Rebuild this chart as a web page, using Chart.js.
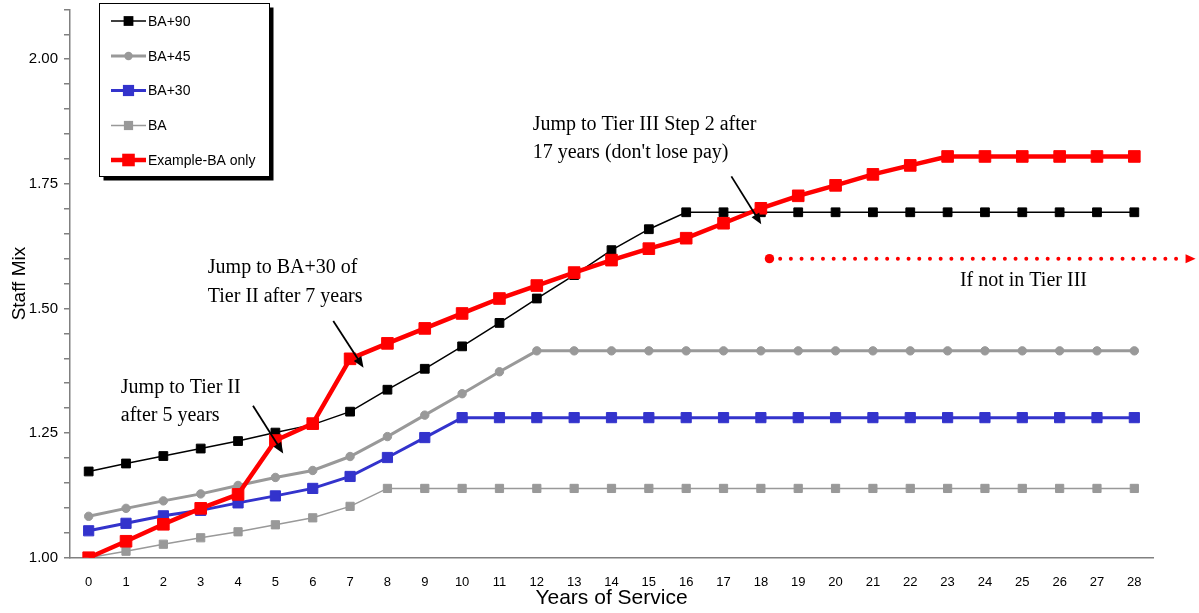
<!DOCTYPE html>
<html>
<head>
<meta charset="utf-8">
<title>Staff Mix by Years of Service</title>
<script src="https://cdn.jsdelivr.net/npm/chart.js@4.4.1/dist/chart.umd.min.js"></script>
<style>
  html, body { margin: 0; padding: 0; background: #ffffff; }
  canvas { display: block; }
</style>
</head>
<body>
<canvas id="chart" width="1199" height="613"></canvas>
<script>
// Years of service (category positions)
const years = [0,1,2,3,4,5,6,7,8,9,10,11,12,13,14,15,16,17,18,19,20,21,22,23,24,25,26,27,28];

// Staff mix factor per lane
const ba90 = [1.173,1.189,1.204,1.219,1.234,1.251,1.267,1.293,1.337,1.379,1.424,1.471,1.520,1.567,1.617,1.659,1.693,
              1.693,1.693,1.693,1.693,1.693,1.693,1.693,1.693,1.693,1.693,1.693,1.693];
const ba45 = [1.083,1.099,1.114,1.128,1.145,1.161,1.175,1.203,1.243,1.286,1.329,1.373,1.415,
              1.415,1.415,1.415,1.415,1.415,1.415,1.415,1.415,1.415,1.415,1.415,1.415,1.415,1.415,1.415,1.415];
const ba30 = [1.054,1.069,1.084,1.095,1.110,1.124,1.139,1.163,1.201,1.241,1.281,
              1.281,1.281,1.281,1.281,1.281,1.281,1.281,1.281,1.281,1.281,1.281,1.281,1.281,1.281,1.281,1.281,1.281,1.281];
const ba   = [1.000,1.013,1.027,1.040,1.052,1.066,1.080,1.103,1.139,
              1.139,1.139,1.139,1.139,1.139,1.139,1.139,1.139,1.139,1.139,1.139,1.139,1.139,1.139,1.139,1.139,1.139,1.139,1.139,1.139];
const exampleBA = [1.000,1.033,1.067,1.099,1.127,1.235,1.269,1.399,1.430,1.460,1.490,1.520,1.546,1.572,1.597,1.620,1.641,
                   1.671,1.701,1.726,1.747,1.769,1.787,1.805,1.805,1.805,1.805,1.805,1.805];

// Axis labels
const yTickLabels = [1.00, 1.25, 1.50, 1.75, 2.00];
const yMin = 1.0, yMax = 2.1, yMinorStep = 0.05;
const isLabelled = v => yTickLabels.some(t => Math.abs(t - v) < 1e-6);

// Callout texts (anchored at data coordinates: x = years, y = staff mix of first baseline)
const notes = [
  { lines: ['Jump to Tier II', 'after 5 years'], x: 0.86, y: 1.331 },
  { lines: ['Jump to BA+30 of', 'Tier II after 7 years'], x: 3.19, y: 1.571 },
  { lines: ['Jump to Tier III Step 2 after', "17 years (don't lose pay)"], x: 11.89, y: 1.859 },
  { lines: ['If not in Tier III'], x: 23.33, y: 1.545 }
];
// Callout arrows [fromX, fromY, toX, toY]
const arrows = [
  [4.40, 1.305, 5.21, 1.209],
  [6.55, 1.475, 7.36, 1.381],
  [17.21, 1.765, 18.01, 1.669]
];
// Dotted path for staying outside Tier III
const dottedPath = [18.23, 1.60, 29.64, 1.60];

const toPoints = arr => arr.map((v, i) => ({ x: years[i], y: v }));

const series = [
  { label: 'BA+90', data: ba90, color: '#000000', line: 1.5, style: 'rect', radius: 6.2, order: 1 },
  { label: 'BA+45', data: ba45, color: '#999999', line: 3, style: 'circle', radius: 4.2, order: 2 },
  { label: 'BA+30', data: ba30, color: '#3333CC', line: 3, style: 'rect', radius: 7.2, order: 3 },
  { label: 'BA', data: ba, color: '#999999', line: 1.5, style: 'rect', radius: 5.8, order: 4 },
  { label: 'Example-BA only', data: exampleBA, color: '#FF0000', line: 4.5, style: 'rect', radius: 8.2, order: 0 }
];

const datasets = series.map(s => ({
  label: s.label,
  data: toPoints(s.data),
  borderColor: s.color,
  backgroundColor: s.color,
  borderWidth: s.line,
  pointStyle: s.style,
  pointRadius: s.radius,
  pointBorderWidth: 1,
  pointBorderColor: s.color,
  pointBackgroundColor: s.color,
  tension: 0,
  order: s.order
}));

function drawArrowHead(ctx, x1, y1, x2, y2, len, halfW) {
  const a = Math.atan2(y2 - y1, x2 - x1);
  ctx.beginPath();
  ctx.moveTo(x2, y2);
  ctx.lineTo(x2 - len * Math.cos(a) + halfW * Math.sin(a), y2 - len * Math.sin(a) - halfW * Math.cos(a));
  ctx.lineTo(x2 - len * Math.cos(a) - halfW * Math.sin(a), y2 - len * Math.sin(a) + halfW * Math.cos(a));
  ctx.closePath();
  ctx.fill();
}

const calloutPlugin = {
  id: 'callouts',
  afterDatasetsDraw(chart) {
    const { ctx, scales: { x, y } } = chart;
    ctx.save();
    // text notes
    ctx.fillStyle = '#000000';
    ctx.font = '20px "Liberation Serif", "Times New Roman", serif';
    ctx.textAlign = 'left';
    ctx.textBaseline = 'alphabetic';
    notes.forEach(n => {
      const px = x.getPixelForValue(n.x);
      const py = y.getPixelForValue(n.y);
      n.lines.forEach((t, i) => ctx.fillText(t, px, py + i * 28.5));
    });
    // arrows
    ctx.strokeStyle = '#000000';
    ctx.lineWidth = 1.8;
    arrows.forEach(a => {
      const x1 = x.getPixelForValue(a[0]), y1 = y.getPixelForValue(a[1]);
      const x2 = x.getPixelForValue(a[2]), y2 = y.getPixelForValue(a[3]);
      const ang = Math.atan2(y2 - y1, x2 - x1);
      ctx.beginPath();
      ctx.moveTo(x1, y1);
      ctx.lineTo(x2 - 8 * Math.cos(ang), y2 - 8 * Math.sin(ang));
      ctx.stroke();
      drawArrowHead(ctx, x1, y1, x2, y2, 11, 4.5);
    });
    // dotted red path
    const dx1 = x.getPixelForValue(dottedPath[0]), dy1 = y.getPixelForValue(dottedPath[1]);
    const dx2 = x.getPixelForValue(dottedPath[2]), dy2 = y.getPixelForValue(dottedPath[3]);
    ctx.fillStyle = '#FF0000';
    ctx.strokeStyle = '#FF0000';
    ctx.beginPath();
    ctx.arc(dx1, dy1, 4.7, 0, Math.PI * 2);
    ctx.fill();
    ctx.lineWidth = 4;
    ctx.lineCap = 'round';
    ctx.setLineDash([0, 10.7]);
    ctx.beginPath();
    ctx.moveTo(dx1 + 10.7, dy1);
    ctx.lineTo(dx2 - 10, dy2);
    ctx.stroke();
    ctx.setLineDash([]);
    drawArrowHead(ctx, dx1, dy1, dx2, dy2, 10, 4.5);
    ctx.restore();
  }
};

const legendPlugin = {
  id: 'boxLegend',
  afterDraw(chart) {
    const { ctx } = chart;
    const bx = 99.5, by = 3.5, bw = 170, bh = 173;
    ctx.save();
    // shadow
    ctx.fillStyle = '#000000';
    ctx.fillRect(bx + 4, by + 4, bw, bh);
    ctx.fillStyle = '#ffffff';
    ctx.fillRect(bx, by, bw, bh);
    ctx.strokeStyle = '#000000';
    ctx.lineWidth = 1;
    ctx.strokeRect(bx, by, bw, bh);
    ctx.font = '14px "Liberation Sans", Arial, sans-serif';
    ctx.textBaseline = 'middle';
    ctx.textAlign = 'left';
    const rowsY = [21, 56, 90.5, 125.5, 160];
    series.forEach((s, i) => {
      const cy = rowsY[i];
      ctx.strokeStyle = s.color;
      ctx.fillStyle = s.color;
      ctx.lineWidth = s.line;
      ctx.beginPath();
      ctx.moveTo(111, cy);
      ctx.lineTo(146, cy);
      ctx.stroke();
      const cx = 128.5;
      if (s.style === 'circle') {
        ctx.beginPath();
        ctx.arc(cx, cy, s.radius, 0, Math.PI * 2);
        ctx.fill();
      } else {
        const h = Math.SQRT1_2 * s.radius + 0.5;
        ctx.fillRect(cx - h, cy - h, 2 * h, 2 * h);
      }
      ctx.fillStyle = '#000000';
      ctx.fillText(s.label, 148, cy + 1);
    });
    ctx.restore();
  }
};

const bgPlugin = {
  id: 'whiteBg',
  beforeDraw(chart) {
    const { ctx, width, height } = chart;
    ctx.save();
    ctx.fillStyle = '#ffffff';
    ctx.fillRect(0, 0, width, height);
    ctx.restore();
  }
};

new Chart(document.getElementById('chart'), {
  type: 'line',
  data: { datasets },
  options: {
    responsive: false,
    animation: false,
    layout: { padding: { left: 0, right: 46, top: 9.4, bottom: 0 } },
    plugins: { legend: { display: false }, tooltip: { enabled: false } },
    scales: {
      x: {
        type: 'linear',
        min: -0.5,
        max: 28.5,
        afterBuildTicks: s => { s.ticks = years.map(v => ({ value: v })); },
        afterFit: s => { s.height = 55.3; },
        grid: { display: false, drawTicks: false },
        border: { display: true, color: '#808080', width: 1.5 },
        ticks: {
          autoSkip: false,
          maxRotation: 0,
          padding: 17,
          color: '#000000',
          font: { family: '"Liberation Sans", Arial, sans-serif', size: 13 },
          callback: v => String(v)
        },
        title: {
          display: true,
          text: 'Years of Service',
          color: '#000000',
          font: { family: '"Liberation Sans", Arial, sans-serif', size: 21 },
          padding: { top: 0, bottom: 2 }
        }
      },
      y: {
        type: 'linear',
        min: yMin,
        max: yMax,
        afterBuildTicks: s => {
          const t = [];
          for (let v = yMin; v <= yMax + 1e-9; v += yMinorStep) t.push({ value: Math.round(v * 100) / 100 });
          s.ticks = t;
        },
        afterFit: s => { s.width = 70; },
        grid: { display: true, drawOnChartArea: false, drawTicks: true, tickLength: 6, color: '#808080', lineWidth: 1.5 },
        border: { display: true, color: '#808080', width: 1.5 },
        ticks: {
          autoSkip: false,
          padding: 6,
          color: '#000000',
          font: c => ({ family: '"Liberation Sans", Arial, sans-serif', size: (c.tick && isLabelled(c.tick.value)) ? 15 : 1 }),
          callback: v => (isLabelled(v) ? v.toFixed(2) : '')
        },
        title: {
          display: true,
          text: 'Staff Mix',
          color: '#000000',
          font: { family: '"Liberation Sans", Arial, sans-serif', size: 19 },
          padding: { top: 8, bottom: 0 }
        }
      }
    }
  },
  plugins: [bgPlugin, calloutPlugin, legendPlugin]
});
</script>
</body>
</html>
